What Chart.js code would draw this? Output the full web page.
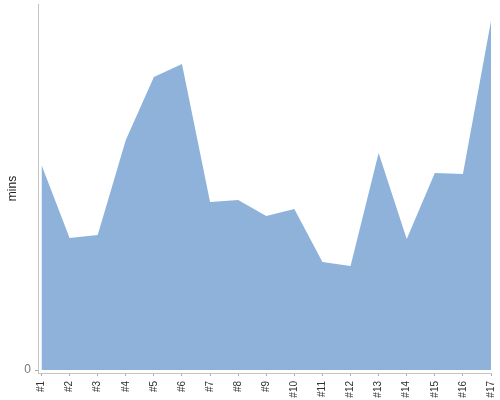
<!DOCTYPE html>
<html>
<head>
<meta charset="utf-8">
<script src="https://cdn.jsdelivr.net/npm/chart.js@4"></script>
<style>
  html, body { margin: 0; padding: 0; background: #fff; }
  #wrap { width: 500px; height: 400px; }
</style>
</head>
<body>
<div id="wrap"><canvas id="c" width="500" height="400"></canvas></div>
<script>
const categories = ['#1','#2','#3','#4','#5','#6','#7','#8','#9','#10','#11','#12','#13','#14','#15','#16','#17'];
const minsValues = [205, 132, 135, 230, 293, 306, 168, 170, 154, 161, 108, 104, 217, 131, 197, 196, 349];
const yTickValues = [0];
const yTickLabels = ['0'];

const points = minsValues.map((v, i) => ({ x: i, y: v }));

function zeroPad(s) {
  s.paddingTop = 0; s.paddingBottom = 0; s.paddingLeft = 0; s.paddingRight = 0;
}

new Chart(document.getElementById('c'), {
  type: 'line',
  data: {
    datasets: [{
      data: points,
      fill: 'origin',
      backgroundColor: 'rgb(143,178,219)',
      borderWidth: 0,
      borderColor: 'rgba(0,0,0,0)',
      pointRadius: 0,
      tension: 0
    }]
  },
  options: {
    responsive: false,
    animation: false,
    devicePixelRatio: 1,
    layout: { padding: { top: 4, right: 9, bottom: 0, left: 0 } },
    plugins: { legend: { display: false }, tooltip: { enabled: false } },
    scales: {
      x: {
        type: 'linear',
        min: -0.125,
        max: categories.length - 1,
        afterFit: s => { s.height = 27; zeroPad(s); },
        afterBuildTicks: s => { s.ticks = categories.map((_, i) => ({ value: i })); },
        grid: { drawOnChartArea: false, drawTicks: true, tickLength: 3, color: '#aaaaaa' },
        border: { display: true, color: '#c4c4c4' },
        ticks: {
          autoSkip: false,
          minRotation: 90,
          maxRotation: 90,
          padding: 5,
          color: '#333333',
          font: { family: 'Liberation Sans, Arial, sans-serif', size: 10 },
          callback: v => categories[v]
        }
      },
      y: {
        min: -3,
        max: 366,
        afterFit: s => { s.width = 38; zeroPad(s); },
        afterBuildTicks: s => { s.ticks = yTickValues.map(v => ({ value: v })); },
        grid: { drawOnChartArea: false, drawTicks: true, tickLength: 3, color: '#aaaaaa' },
        border: { display: true, color: '#c4c4c4' },
        ticks: {
          padding: 4,
          color: '#777777',
          font: { family: 'Liberation Sans, Arial, sans-serif', size: 12 },
          callback: v => yTickLabels[yTickValues.indexOf(v)]
        },
        title: {
          display: true,
          text: 'mins',
          color: '#222222',
          padding: { top: 5, bottom: 0 },
          font: { family: 'Liberation Sans, Arial, sans-serif', size: 12 }
        }
      }
    }
  }
});
</script>
</body>
</html>
